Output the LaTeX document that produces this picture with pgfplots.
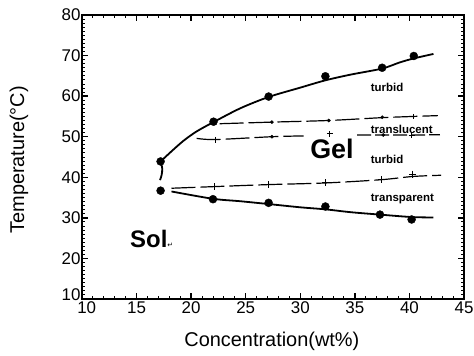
\documentclass[border=0pt]{standalone}
\usepackage{fontspec}
\setmainfont{Liberation Sans}
\newfontfamily\dejavu{DejaVu Sans}
\usepackage{pgfplots}
\pgfplotsset{compat=1.18}
\begin{document}
\begin{tikzpicture}
\path[use as bounding box] (-82bp,-57bp) rectangle (392bp,299bp);
\begin{axis}[
 at={(0,0)}, anchor=south west,
 scale only axis, width=382bp, height=284bp,
 xmin=10, xmax=45, ymin=10, ymax=80,
 xtick={10,15,...,45}, ytick={10,20,...,80},
 xticklabels={\hphantom{0}10,15,20,25,30,35,40,45},
 yticklabels={\raisebox{4bp}[\height][\depth]{10},20,30,40,50,60,70,80},
 minor x tick num=4, minor y tick num=9,
 major tick length=6bp, minor tick length=3bp,
 axis line style={line width=1.5bp},
 major tick style={line width=1.3bp, black},
 minor tick style={line width=0.9bp, black},
 tick label style={font=\fontsize{17}{18}\selectfont},
 yticklabel style={xshift=2bp},
 xticklabel style={yshift=1bp},
 /pgf/number format/assume math mode=true,
 xlabel={Concentration(wt\%)}, ylabel={Temperature(°C)},
 label style={font=\fontsize{20}{22}\selectfont},
 xlabel style={at={(axis description cs:0.497,-0.167)}, anchor=base},
 ylabel style={at={(axis description cs:-0.165,0.49)}, anchor=center},
 clip=false,
]
% vertical connector
\addplot[black, line width=1.8bp, smooth] coordinates {(17.15,39.3) (17.3,40.6) (17.35,42.2) (17.2,43.9)};
% upper solid boundary
\addplot[black, line width=1.8bp, smooth] coordinates {(17.2,43.9) (18.2,46.4) (19.3,49.0) (20.5,51.3) (22.05,53.6) (24.5,57.0) (27.1,59.8) (30,62.1) (32.3,63.9) (34.6,65.3) (37.5,66.8) (39.1,68.3) (40.4,69.3) (42.2,70.4)};
% lower solid boundary
\addplot[black, line width=1.8bp, smooth] coordinates {(18.2,36.5) (22.0,34.7) (24.5,34.1) (27.1,33.4) (30,32.6) (32.3,32.1) (34.6,31.4) (37.3,30.8) (40.2,30.2) (42.2,30.1)};
% circles
\addplot[only marks, mark=*, mark size=4bp, black] coordinates {(17.2,43.9) (22.05,53.7) (27.1,59.9) (32.3,64.9) (37.5,67.0) (40.4,69.9)};
\addplot[only marks, mark=*, mark size=4bp, black] coordinates {(17.2,36.7) (22.0,34.6) (27.1,33.7) (32.3,32.8) (37.3,30.8) (40.2,29.6)};
% dashed line A
\addplot[black, line width=1.2bp, dash pattern=on 24bp off 5bp, smooth] coordinates {(22.6,53.2) (27.4,53.6) (32.6,54.0) (37.5,54.7) (40.4,55.0) (42.6,55.2)};
\addplot[only marks, mark=*, mark size=1.6bp, black] coordinates {(27.4,53.6) (32.6,54.0) (37.5,54.8)};
\addplot[only marks, mark=+, mark size=2.5bp, black, line width=1bp] coordinates {(40.4,55.0)};
% dashed line B
\addplot[black, line width=1.2bp, dash pattern=on 24bp off 5bp, smooth] coordinates {(20.5,49.6) (22.2,49.3) (27.4,50.0) (30.3,50.2)};
\addplot[black, line width=1.2bp, dash pattern=on 14bp off 4bp] coordinates {(35.2,50.4) (37.6,50.4) (40.2,50.4) (42.8,50.5)};
\addplot[only marks, mark=*, mark size=1.6bp, black] coordinates {(27.4,50.0) (37.6,50.4)};
\addplot[only marks, mark=+, mark size=3bp, black, line width=1bp] coordinates {(22.2,49.2) (32.7,50.7) (40.2,50.4)};
% dashed line C
\addplot[black, line width=1.2bp, dash pattern=on 24bp off 5bp, smooth] coordinates {(18.2,37.3) (22.1,37.7) (27.1,38.2) (32.3,38.6) (37.4,39.4) (40.3,40.2) (42.9,40.5)};
\addplot[only marks, mark=+, mark size=3.5bp, black, line width=1bp] coordinates {(22.1,37.7) (27.1,38.2) (32.3,38.6) (37.4,39.4) (40.3,40.8)};
% labels
\node[anchor=base west, inner sep=0pt, font=\bfseries\fontsize{11.5}{12}\selectfont] at (axis cs:36.45,61.1) {turbid};
\node[anchor=base west, inner sep=0pt, font=\bfseries\fontsize{11.5}{12}\selectfont] at (axis cs:36.45,50.9) {translucent};
\node[anchor=base west, inner sep=0pt, font=\bfseries\fontsize{11.5}{12}\selectfont] at (axis cs:36.45,43.5) {turbid};
\node[anchor=base west, inner sep=0pt, font=\bfseries\fontsize{11.5}{12}\selectfont] at (axis cs:36.45,34.05) {transparent};
\node[anchor=base west, inner sep=0pt, font=\bfseries\fontsize{27}{28}\selectfont] at (axis cs:30.9,44.7) {Gel};
\node[anchor=base west, inner sep=0pt, font=\bfseries\fontsize{24}{25}\selectfont] at (axis cs:14.4,22.6) {Sol{\dejavu\mdseries\fontsize{7}{8}\selectfont ↵}};
\end{axis}
\end{tikzpicture}
\end{document}
